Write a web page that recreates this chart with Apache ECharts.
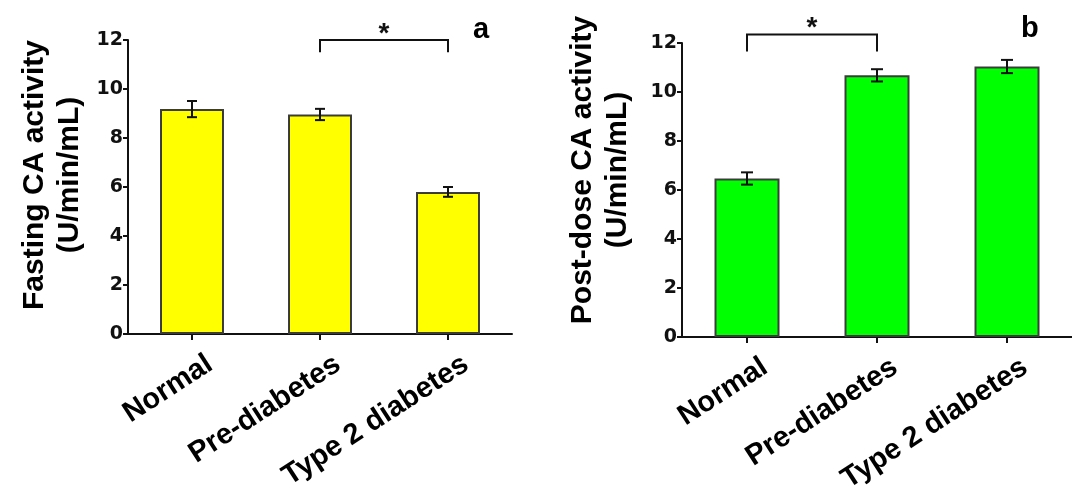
<!DOCTYPE html>
<html>
<head>
<meta charset="utf-8">
<script src="https://cdn.jsdelivr.net/npm/echarts@6/dist/echarts.min.js"></script>
<style>
html,body{margin:0;padding:0;background:#fff;}
#chart{width:1072px;height:494px;}
</style>
</head>
<body>
<div id="chart"></div>
<script>
// ---- data ----
const categories = ['Normal', 'Pre-diabetes', 'Type 2 diabetes'];
const fastingMean = [9.18, 8.96, 5.80];
const fastingErr = [0.33, 0.23, 0.20];
const postMean = [6.47, 10.68, 11.04];
const postErr = [0.25, 0.25, 0.27];
// significance: [from category, to category, bracket top, tick bottom]
const fastingSig = [1, 2, 12.0, 11.5];
const postSig = [0, 1, 12.35, 11.65];
const yMin = 0, yMax = 12, yStep = 2;
const panelLabels = ['a', 'b'];
const yTitles = ['Fasting CA activity\n(U/min/mL)', 'Post-dose CA activity\n(U/min/mL)'];

const ARIAL = '"Liberation Sans", Arial, sans-serif';
const TICKFONT = '"DejaVu Sans", sans-serif';

function errData(mean, err) { return mean.map((m, i) => [i, m, err[i]]); }

function errorRender(capHalf) {
  return function (params, api) {
    const i = api.value(0), m = api.value(1), e = api.value(2);
    const hi = api.coord([i, m + e]), lo = api.coord([i, m - e]);
    const st = { stroke: '#111', lineWidth: 2 };
    return { type: 'group', children: [
      { type: 'line', shape: { x1: hi[0], y1: hi[1], x2: lo[0], y2: lo[1] }, style: st },
      { type: 'line', shape: { x1: hi[0] - capHalf, y1: hi[1], x2: hi[0] + capHalf, y2: hi[1] }, style: st },
      { type: 'line', shape: { x1: lo[0] - capHalf, y1: lo[1], x2: lo[0] + capHalf, y2: lo[1] }, style: st }
    ]};
  };
}

function bracketRender(params, api) {
  const a = api.value(0), b = api.value(1), top = api.value(2), bot = api.value(3);
  const p1 = api.coord([a, bot]), p2 = api.coord([a, top]), p3 = api.coord([b, top]), p4 = api.coord([b, bot]);
  return { type: 'group', children: [
    { type: 'polyline', shape: { points: [p1, p2, p3, p4] }, style: { stroke: '#111', lineWidth: 2, fill: null } },
    { type: 'text', x: (p2[0] + p3[0]) / 2, y: p2[1] - 6,
      style: { text: '*', font: 'bold 28px ' + ARIAL, fill: '#111', align: 'center', verticalAlign: 'middle' } }
  ]};
}

function yAxisCfg(gridIndex) {
  return {
    type: 'value', gridIndex, min: yMin, max: yMax, interval: yStep,
    axisLine: { show: true, lineStyle: { color: '#111', width: 2 } },
    axisTick: { show: true, length: 5, lineStyle: { color: '#111', width: 2 } },
    axisLabel: { fontFamily: TICKFONT, fontWeight: 'bold', fontSize: 19, color: '#111', margin: 5 },
    splitLine: { show: false }
  };
}
function xAxisCfg(gridIndex) {
  return {
    type: 'category', gridIndex, data: categories,
    axisLine: { show: true, lineStyle: { color: '#111', width: 2 } },
    axisTick: { show: true, alignWithLabel: true, length: 6, lineStyle: { color: '#111', width: 2 } },
    axisLabel: { fontFamily: ARIAL, fontWeight: 'bold', fontSize: 29, color: '#000', rotate: 33, margin: 0,
      interval: 0, align: 'right', verticalAlign: 'top', lineHeight: 66 }
  };
}
function yTitle(text, x, y) {
  return { type: 'text', x, y, rotation: Math.PI / 2,
    style: { text, font: 'bold 30px ' + ARIAL, fill: '#000', align: 'center', verticalAlign: 'middle', lineHeight: 35 } };
}

const chart = echarts.init(document.getElementById('chart'), null, { renderer: 'canvas' });
chart.setOption({
  backgroundColor: '#fff',
  animation: false,
  title: [
    { text: panelLabels[0], left: 468, top: 10, textStyle: { fontFamily: ARIAL, fontWeight: 'bold', fontSize: 29, color: '#000' } },
    { text: panelLabels[1], left: 1016, top: 9, textStyle: { fontFamily: ARIAL, fontWeight: 'bold', fontSize: 29, color: '#000' } }
  ],
  graphic: [yTitle(yTitles[0], 52, 175), yTitle(yTitles[1], 600, 170)],
  grid: [
    { left: 128, top: 40, width: 384, height: 294, containLabel: false, outerBoundsMode: 'none' },
    { left: 682, top: 43, width: 390, height: 294, containLabel: false, outerBoundsMode: 'none' }
  ],
  xAxis: [xAxisCfg(0), xAxisCfg(1)],
  yAxis: [yAxisCfg(0), yAxisCfg(1)],
  series: [
    { type: 'bar', xAxisIndex: 0, yAxisIndex: 0, data: fastingMean, barWidth: '50%',
      itemStyle: { color: '#ffff00', borderColor: '#3c3c3c', borderWidth: 2 } },
    { type: 'custom', xAxisIndex: 0, yAxisIndex: 0, data: errData(fastingMean, fastingErr),
      renderItem: errorRender(5), encode: { x: 0, y: 1 }, z: 5 },
    { type: 'custom', xAxisIndex: 0, yAxisIndex: 0, data: [fastingSig], clip: false,
      renderItem: bracketRender, encode: { x: [0, 1], y: [2, 3] }, z: 5 },
    { type: 'bar', xAxisIndex: 1, yAxisIndex: 1, data: postMean, barWidth: '50%',
      itemStyle: { color: '#00ff00', borderColor: '#3c3c3c', borderWidth: 2 } },
    { type: 'custom', xAxisIndex: 1, yAxisIndex: 1, data: errData(postMean, postErr),
      renderItem: errorRender(6), encode: { x: 0, y: 1 }, z: 5 },
    { type: 'custom', xAxisIndex: 1, yAxisIndex: 1, data: [postSig], clip: false,
      renderItem: bracketRender, encode: { x: [0, 1], y: [2, 3] }, z: 5 }
  ]
});
</script>
</body>
</html>
